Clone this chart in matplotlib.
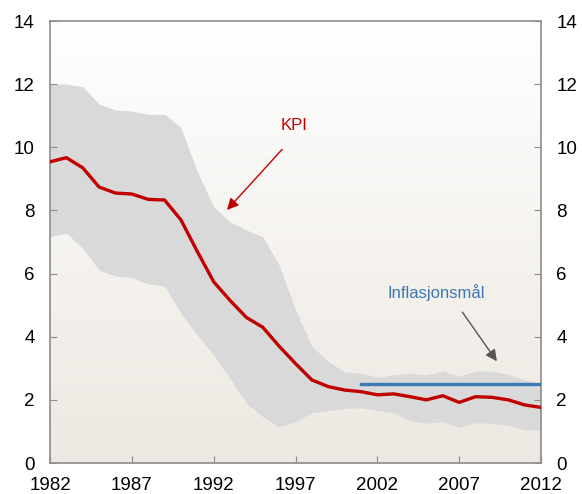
import numpy as np
import matplotlib
matplotlib.use("Agg")
import matplotlib.pyplot as plt
from matplotlib.colors import LinearSegmentedColormap

plt.rcParams['font.family'] = ['Liberation Sans', 'DejaVu Sans']

# Data
years = list(range(1982, 2013))
kpi = [9.54, 9.67, 9.35, 8.74, 8.55, 8.52, 8.35, 8.33, 7.70, 6.70,
       5.74, 5.15, 4.61, 4.30, 3.70, 3.15, 2.63, 2.42, 2.31, 2.26,
       2.16, 2.19, 2.10, 2.00, 2.13, 1.92, 2.10, 2.08, 2.00, 1.84, 1.76]
band_upper = [12.00, 12.00, 11.92, 11.37, 11.18, 11.15, 11.04, 11.05, 10.62, 9.23,
              8.12, 7.64, 7.38, 7.17, 6.27, 4.85, 3.70, 3.21, 2.89, 2.84,
              2.71, 2.79, 2.84, 2.79, 2.91, 2.75, 2.91, 2.91, 2.81, 2.63, 2.52]
band_lower = [7.17, 7.28, 6.80, 6.11, 5.92, 5.87, 5.67, 5.60, 4.74, 4.05,
              3.42, 2.68, 1.89, 1.47, 1.15, 1.31, 1.59, 1.66, 1.73, 1.75,
              1.66, 1.59, 1.34, 1.26, 1.31, 1.13, 1.28, 1.25, 1.20, 1.05, 1.05]
target_years = [2001, 2012]
target = [2.5, 2.5]

xticks = [1982, 1987, 1992, 1997, 2002, 2007, 2012]
yticks = [0, 2, 4, 6, 8, 10, 12, 14]

red = "#C00000"
blue = "#3C78B4"
spine_col = "#8C8C8C"

fig = plt.figure(figsize=(5.82, 4.94), dpi=100)
ax = fig.add_axes([50 / 582, 31 / 494, 491 / 582, 442 / 494])

# gradient background: white at top, beige at bottom
cmap = LinearSegmentedColormap.from_list("bg", ["#FFFFFF", "#EDE8E1"])
grad = np.linspace(0, 1, 256).reshape(-1, 1)
ax.imshow(grad, cmap=cmap, aspect="auto", extent=[1982, 2012, 0, 14],
          zorder=0, origin="upper")

ax.fill_between(years, band_lower, band_upper, color="#D9D9D9", lw=0, zorder=1)
ax.plot(years, kpi, color=red, lw=2.4, zorder=3, solid_joinstyle="round")
ax.plot(target_years, target, color=blue, lw=2.4, zorder=4)

ax.set_xlim(1982, 2012)
ax.set_ylim(0, 14)
ax.set_xticks(xticks)
ax.set_yticks(yticks)

for s in ax.spines.values():
    s.set_color(spine_col)
    s.set_linewidth(1.2)

ax.tick_params(axis="both", direction="in", length=5, color=spine_col,
               labelsize=13.5)
ax.tick_params(axis="y", left=True, right=True, labelleft=True, labelright=True,
               pad=11)
ax.tick_params(axis="x", pad=10)

# annotations
ax.annotate("", xy=(1992.7, 7.95), xytext=(1996.3, 10.0),
            arrowprops=dict(arrowstyle="-|>", color=red, lw=1.0,
                            mutation_scale=17), zorder=5)
ax.text(1996.9, 10.7, "KPI", color=red, fontsize=12, ha="center", va="center")

ax.annotate("", xy=(2009.4, 3.15), xytext=(2007.1, 4.85),
            arrowprops=dict(arrowstyle="-|>", color="#555555", lw=1.0,
                            mutation_scale=17), zorder=5)
ax.text(2005.6, 5.4, "Inflasjonsmål", color=blue, fontsize=12,
        ha="center", va="center")

fig.savefig("out.png", dpi=100)
